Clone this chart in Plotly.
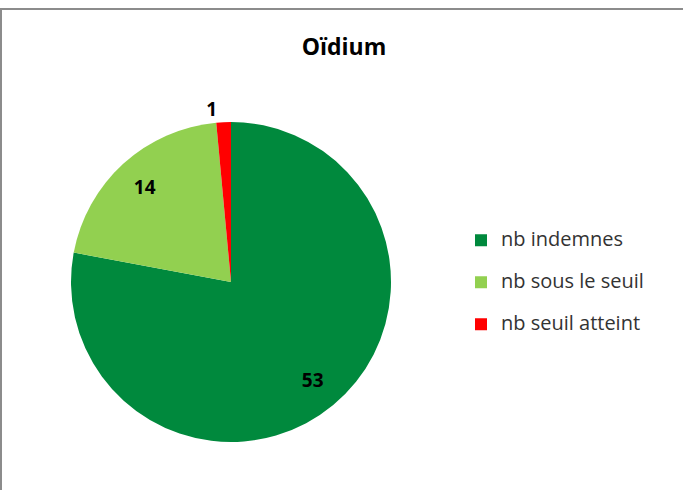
import plotly.graph_objects as go

# data
labels = ["nb indemnes", "nb sous le seuil", "nb seuil atteint"]
values = [53, 14, 1]
colors = ["#00893D", "#92D050", "#FF0000"]

W, H = 683, 490
FONT = "Open Sans, Arial"
dom = dict(x=[71 / W, 391 / W], y=[48 / H, 368 / H])

# Excel-style legend spacing: a small legend font gives the line height,
# the span gives the visible text size, the empty line adds the gap
legend_labels = ["<span style='font-size:20px'>%s</span><br> " % lab for lab in labels]

fig = go.Figure()

# the pie itself
fig.add_trace(go.Pie(
    labels=legend_labels,
    values=values,
    sort=False,
    direction="clockwise",
    rotation=0,
    marker=dict(colors=colors, line=dict(width=0)),
    textinfo="none",
    domain=dom,
    hovertemplate="%{value}<extra></extra>",
))

# transparent ring on top, only to put the value labels further out
fig.add_trace(go.Pie(
    labels=labels,
    values=values,
    sort=False,
    direction="clockwise",
    rotation=0,
    hole=0.6,
    marker=dict(colors=["rgba(0,0,0,0)"] * 3, line=dict(width=0)),
    textinfo="value",
    textposition=["inside", "inside", "outside"],
    insidetextorientation="horizontal",
    textfont=dict(family=FONT, size=19, color="black", weight="bold"),
    domain=dom,
    showlegend=False,
    hoverinfo="skip",
))

fig.update_layout(
    width=W, height=H,
    margin=dict(l=0, r=0, t=0, b=0),
    paper_bgcolor="white",
    title=dict(text="Oïdium", x=344 / W, xanchor="center",
               y=1 - 47 / H, yanchor="middle",
               font=dict(family=FONT, size=23, color="black", weight="bold")),
    legend=dict(x=461 / W, y=1 - 224 / H, xanchor="left", yanchor="top",
                font=dict(family=FONT, size=15, color="#333333"),
                valign="top", itemwidth=30, bgcolor="rgba(0,0,0,0)"),
    shapes=[
        dict(type="line", xref="paper", yref="paper", x0=0, x1=1.01,
             y0=1 - 9 / H, y1=1 - 9 / H, line=dict(color="#8c8c8c", width=2)),
        dict(type="line", xref="paper", yref="paper", x0=1 / W, x1=1 / W,
             y0=-0.01, y1=1 - 9 / H, line=dict(color="#8c8c8c", width=2)),
    ],
)

fig.write_html("out.html", config={"displayModeBar": False},
               post_script="document.body.style.margin='0';")
